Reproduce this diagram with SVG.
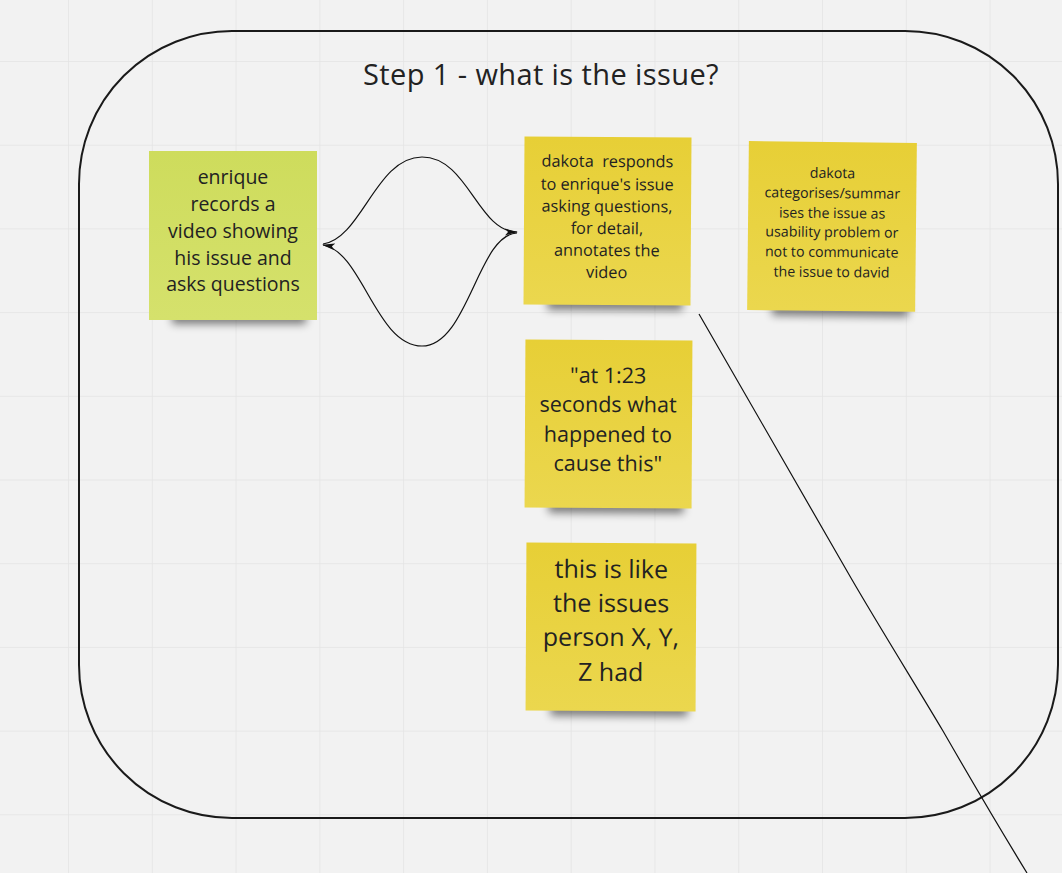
<svg xmlns="http://www.w3.org/2000/svg" width="1062" height="873" viewBox="0 0 1062 873">
  <defs>
    <pattern id="grid" x="68" y="61" width="83.78" height="83.7" patternUnits="userSpaceOnUse">
      <path d="M0,0 H83.78 M0,0 V83.7" fill="none" stroke="#e4e4e4" stroke-width="1.5"/>
    </pattern>
    <filter id="sh" x="-20%" y="-200%" width="140%" height="500%">
      <feGaussianBlur stdDeviation="4"/>
    </filter>
    <marker id="ah" viewBox="0 0 13 8" refX="12" refY="4" markerWidth="13" markerHeight="8" markerUnits="userSpaceOnUse" orient="auto-start-reverse">
      <path d="M0,0.6 L13,4 L0,7.4 L3,4 Z" fill="#111"/>
    </marker>
    <linearGradient id="gG" x1="0" y1="0" x2="0" y2="1">
      <stop offset="0" stop-color="#cedc5c"/>
      <stop offset="1" stop-color="#d5e16c"/>
    </linearGradient>
    <linearGradient id="gY" x1="0" y1="0" x2="0" y2="1">
      <stop offset="0" stop-color="#e7cf36"/>
      <stop offset="1" stop-color="#ebd74e"/>
    </linearGradient>
  </defs>
  <style>
    .t { font-family: "Open Sans", "Noto Sans", "Liberation Sans", sans-serif; fill: #222; text-anchor: middle; }
    .shadow { fill: #000; opacity: 0.5; filter: url(#sh); }
    .conn { fill: none; stroke: #111; stroke-width: 1.2; }
  </style>
  <rect width="1062" height="873" fill="#f2f2f2"/>
  <rect width="1062" height="873" fill="url(#grid)"/>

  <g id="frame">
    <rect x="79" y="31" width="979" height="787" rx="153" ry="153" fill="none" stroke="#1a1a1a" stroke-width="2"/>
    <text class="t" x="541" y="85" font-size="29" letter-spacing="0.4">Step 1 - what is the issue?</text>
  </g>

  <g id="note-enrique">
    <rect class="shadow" x="172" y="312" width="134" height="12"/>
    <rect x="149" y="151" width="168" height="169" fill="url(#gG)"/>
    <text class="t" font-size="19.5"><tspan x="233" y="184">enrique</tspan><tspan x="233" y="211">records a</tspan><tspan x="233" y="238">video showing</tspan><tspan x="233" y="265">his issue and</tspan><tspan x="233" y="291">asks questions</tspan></text>
  </g>

  <g id="note-dakota-responds" transform="rotate(0.35 607 221)">
    <rect class="shadow" x="548" y="298" width="135" height="12"/>
    <rect x="524" y="137" width="167" height="168" fill="url(#gY)"/>
    <text class="t" font-size="16.3" xml:space="preserve"><tspan x="607" y="167">dakota  responds</tspan><tspan x="607" y="190">to enrique's issue</tspan><tspan x="607" y="212">asking questions,</tspan><tspan x="607" y="234">for detail,</tspan><tspan x="607" y="256">annotates the</tspan><tspan x="607" y="278">video</tspan></text>
  </g>

  <g id="note-dakota-categorises" transform="rotate(0.6 832 226)">
    <rect class="shadow" x="773" y="304" width="136" height="12"/>
    <rect x="748" y="142" width="168" height="169" fill="url(#gY)"/>
    <text class="t" font-size="14.2"><tspan x="832" y="178">dakota</tspan><tspan x="832" y="198">categorises/summar</tspan><tspan x="832" y="218">ises the issue as</tspan><tspan x="832" y="237">usability problem or</tspan><tspan x="832" y="257">not to communicate</tspan><tspan x="832" y="277">the issue to david</tspan></text>
  </g>

  <g id="note-at-123" transform="rotate(0.3 608 424)">
    <rect class="shadow" x="549" y="501" width="135" height="12"/>
    <rect x="525" y="340" width="167" height="168" fill="url(#gY)"/>
    <text class="t" font-size="21.5"><tspan x="608" y="383">"at 1:23</tspan><tspan x="608" y="412">seconds what</tspan><tspan x="608" y="442">happened to</tspan><tspan x="608" y="471">cause this"</tspan></text>
  </g>

  <g id="note-this-is-like" transform="rotate(0.3 611 627)">
    <rect class="shadow" x="551" y="704" width="137" height="12"/>
    <rect x="526" y="543" width="170" height="168" fill="url(#gY)"/>
    <text class="t" font-size="25"><tspan x="611" y="578">this is like</tspan><tspan x="611" y="612">the issues</tspan><tspan x="611" y="646">person X, Y,</tspan><tspan x="611" y="681">Z had</tspan></text>
  </g>

  <g id="connectors">
    <path class="conn" marker-end="url(#ah)" d="M323,244 C362,238 376,157 422,157 C468,157 478,232 517,232"/>
    <path class="conn" marker-start="url(#ah)" d="M323,245 C362,251 376,346 422,346 C468,346 478,234 517,233"/>
    <path class="conn" stroke-width="1.6" d="M699,314 L851,578 C880,628 920,692 943,731 C962,764 992,816 1027,873"/>
  </g>
</svg>
